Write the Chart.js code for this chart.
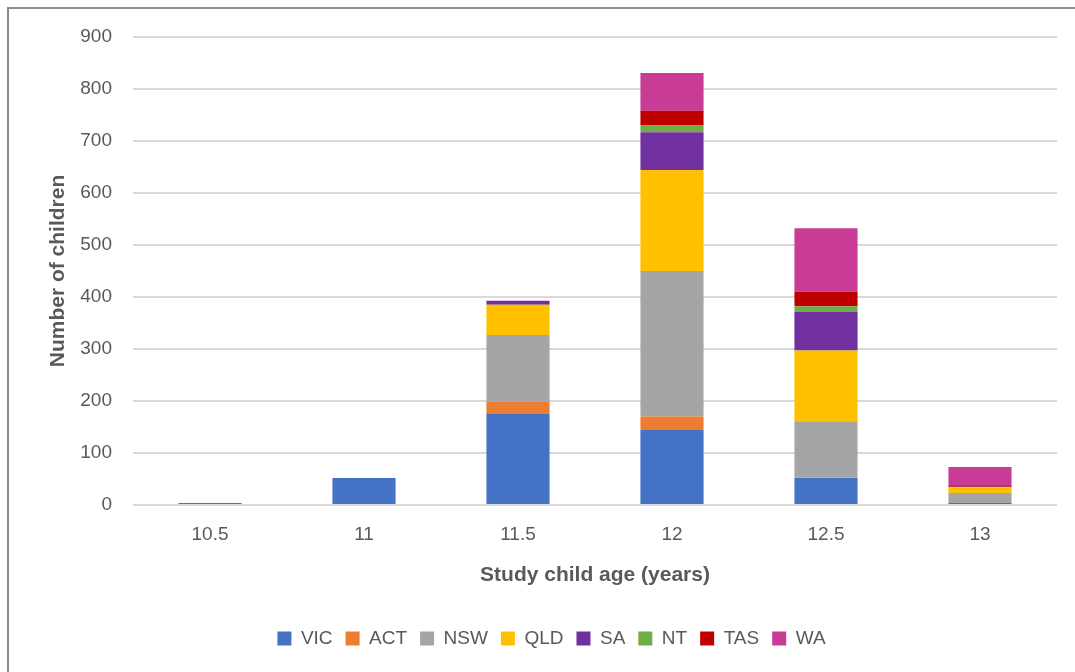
<!DOCTYPE html>
<html>
<head>
<meta charset="utf-8">
<script src="https://cdn.jsdelivr.net/npm/chart.js@4"></script>
<style>
  html, body { margin: 0; padding: 0; background: #fff; }
  #wrap { width: 1075px; height: 672px; position: relative; }
</style>
</head>
<body>
<div id="wrap"><canvas id="ageChart"></canvas></div>
<script>
const ages = ["10.5", "11", "11.5", "12", "12.5", "13"];

const vic = [4, 52, 175, 144, 52, 4];
const act = [0, 0, 24, 26, 1, 0];
const nsw = [0, 0, 128, 280, 108, 19];
const qld = [0, 0, 58, 194, 136, 11];
const sa  = [0, 0, 8, 73, 74, 1];
const nt  = [0, 0, 0, 13, 11, 0];
const tas = [0, 0, 0, 28, 28, 3];
const wa  = [0, 0, 0, 73, 122, 35];

const yTicks = [0, 100, 200, 300, 400, 500, 600, 700, 800, 900];

const FONT = "'Liberation Sans', Arial, sans-serif";
const TEXT = "#595959";

function series(label, data, color) {
    return {
        label: label,
        data: data,
        backgroundColor: color,
        borderWidth: 0,
        barPercentage: 0.41,
        categoryPercentage: 1.0
    };
}

// gray frame round the whole picture (cut off on the right and bottom)
const framePlugin = {
    id: "frame",
    afterDraw(chart) {
        const ctx = chart.ctx;
        ctx.save();
        ctx.strokeStyle = "#8c8c8c";
        ctx.lineWidth = 2;
        ctx.beginPath();
        ctx.moveTo(8, 700);
        ctx.lineTo(8, 8);
        ctx.lineTo(1100, 8);
        ctx.stroke();
        ctx.restore();
    }
};

const ctx = document.getElementById("ageChart").getContext("2d");
new Chart(ctx, {
    type: "bar",
    data: {
        labels: ages,
        datasets: [
            series("VIC", vic, "#4472C4"),
            series("ACT", act, "#ED7D31"),
            series("NSW", nsw, "#A5A5A5"),
            series("QLD", qld, "#FFC000"),
            series("SA", sa, "#7030A0"),
            series("NT", nt, "#70AD47"),
            series("TAS", tas, "#C00000"),
            series("WA", wa, "#C83C96")
        ]
    },
    options: {
        responsive: true,
        maintainAspectRatio: false,
        animation: false,
        layout: { padding: { top: 37, right: 18, bottom: 14, left: 46 } },
        plugins: {
            tooltip: { enabled: false },
            legend: {
                position: "bottom",
                labels: {
                    boxWidth: 14,
                    boxHeight: 14,
                    padding: 13,
                    color: TEXT,
                    font: { family: FONT, size: 19 }
                }
            }
        },
        scales: {
            x: {
                stacked: true,
                grid: { display: false },
                border: { display: false },
                ticks: {
                    color: TEXT,
                    padding: 10,
                    font: { family: FONT, size: 19 }
                },
                title: {
                    display: true,
                    text: "Study child age (years)",
                    color: TEXT,
                    padding: { top: 6, bottom: 28 },
                    font: { family: FONT, size: 21, weight: "bold" }
                },
                afterFit(scale) { scale.height = 111; }
            },
            y: {
                stacked: true,
                min: 0,
                max: 900,
                afterBuildTicks(scale) {
                    scale.ticks = yTicks.map(v => ({ value: v }));
                },
                grid: { color: "#d9d9d9", lineWidth: 2, drawTicks: false },
                border: { display: false },
                ticks: {
                    color: TEXT,
                    padding: 21,
                    font: { family: FONT, size: 19 }
                },
                title: {
                    display: true,
                    text: "Number of children",
                    color: TEXT,
                    padding: { top: 0, bottom: 4 },
                    font: { family: FONT, size: 21, weight: "bold" }
                },
                afterFit(scale) { scale.width = 87; }
            }
        }
    },
    plugins: [framePlugin]
});
</script>
</body>
</html>
